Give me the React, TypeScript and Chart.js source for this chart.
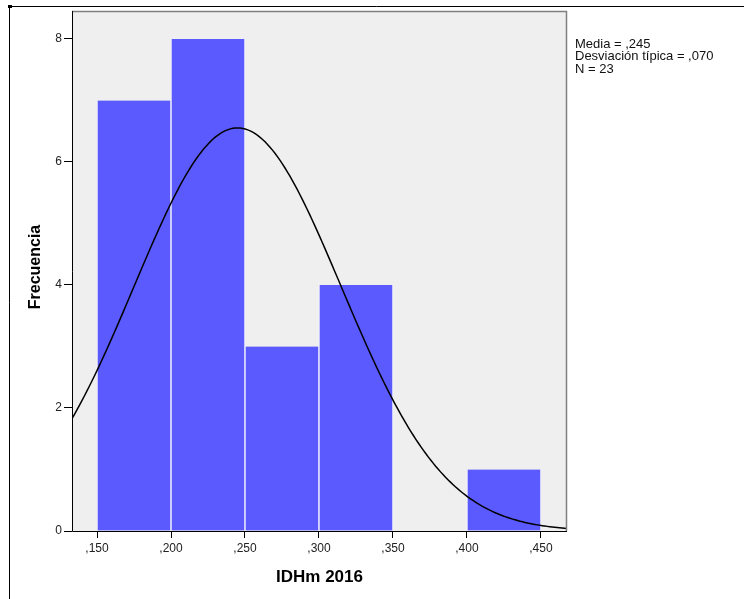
import React, { useEffect, useRef } from "react";
import { Chart, registerables } from "chart.js";

Chart.register(...registerables);

const binCenters = [0.175, 0.225, 0.275, 0.325, 0.425];
const frequencies = [7, 8, 3, 4, 1];
const xTicks = [0.15, 0.2, 0.25, 0.3, 0.35, 0.4, 0.45];
const yTicks = [0, 2, 4, 6, 8];
const media = 0.245;
const desviacion = 0.07;
const nTotal = 23;
const binWidth = 0.05;
const statLines = ["Media = ,245", "Desviación típica = ,070", "N = 23"];
const xMin = 0.1331;
const xMax = 0.4676;
const yMax = 8.455;

const FONT = "'Liberation Sans', Arial, sans-serif";

function fmtTick(v: number) {
  return "," + Math.round(v * 1000).toString().padStart(3, "0");
}

export default function App() {
  const ref = useRef<HTMLCanvasElement>(null);
  useEffect(() => {
    document.body.style.margin = "0";
    const curve: { x: number; y: number }[] = [];
    const steps = 200;
    for (let i = 0; i <= steps; i++) {
      const x = xMin + ((xMax - xMin) * i) / steps;
      const z = (x - media) / desviacion;
      const y = (nTotal * binWidth) / (desviacion * Math.sqrt(2 * Math.PI)) * Math.exp(-0.5 * z * z);
      curve.push({ x, y });
    }
    const framePlugin = {
      id: "frame",
      beforeDatasetsDraw(chart: any) {
        const { ctx, chartArea: a } = chart;
        ctx.save();
        ctx.fillStyle = "#efefef";
        ctx.fillRect(a.left, a.top, a.right - a.left, a.bottom - a.top);
        ctx.restore();
      },
      afterDraw(chart: any) {
        const { ctx, chartArea: a } = chart;
        ctx.save();
        ctx.strokeStyle = "#7f7f7f";
        ctx.lineWidth = 1.5;
        ctx.beginPath();
        ctx.moveTo(a.left, a.top + 0.5);
        ctx.lineTo(a.right - 0.5, a.top + 0.5);
        ctx.lineTo(a.right - 0.5, a.bottom);
        ctx.stroke();
        ctx.strokeStyle = "#000";
        ctx.lineWidth = 1;
        ctx.beginPath();
        ctx.moveTo(a.left + 0.5, a.top);
        ctx.lineTo(a.left + 0.5, a.bottom + 0.5);
        ctx.lineTo(a.right, a.bottom + 0.5);
        ctx.stroke();
        ctx.beginPath();
        ctx.moveTo(9.5, 599);
        ctx.lineTo(9.5, 6.5);
        ctx.lineTo(744, 6.5);
        ctx.stroke();
        ctx.fillStyle = "#000";
        ctx.fillRect(8, 5, 4, 3);
        ctx.fillStyle = "#000";
        ctx.font = `bold 17px ${FONT}`;
        ctx.textAlign = "center";
        ctx.textBaseline = "middle";
        ctx.fillText("IDHm 2016", (a.left + a.right) / 2, 577);
        ctx.save();
        ctx.translate(36, 267);
        ctx.rotate(-Math.PI / 2);
        ctx.font = `bold 16px ${FONT}`;
        ctx.fillText("Frecuencia", 0, 0);
        ctx.restore();
        ctx.font = `13px ${FONT}`;
        ctx.fillStyle = "#111";
        ctx.textAlign = "left";
        ctx.textBaseline = "middle";
        statLines.forEach((s, i) => ctx.fillText(s, 575, 44 + i * 12.5));
        ctx.restore();
      },
    };
    const chart = new Chart(ref.current!, {
      type: "bar",
      data: {
        datasets: [
          {
            type: "line",
            data: curve,
            borderColor: "#000",
            borderWidth: 1.5,
            pointRadius: 0,
            tension: 0,
            order: 0,
          } as any,
          {
            type: "bar",
            data: binCenters.map((x, i) => ({ x, y: frequencies[i] })),
            backgroundColor: "#5a5aff",
            borderColor: "#ffffff",
            borderWidth: { left: 1, right: 1, top: 0, bottom: 0 },
            borderSkipped: false,
            barPercentage: 1,
            categoryPercentage: 1,
            order: 1,
          } as any,
        ],
      },
      options: {
        animation: false,
        responsive: false,
        maintainAspectRatio: false,
        layout: { padding: { top: 11, right: 177, left: 0, bottom: 0 } },
        plugins: { legend: { display: false }, tooltip: { enabled: false } },
        scales: {
          x: {
            type: "linear",
            min: xMin,
            max: xMax,
            offset: false,
            afterBuildTicks: (s: any) => {
              s.ticks = xTicks.map((v) => ({ value: v }));
            },
            afterFit: (s: any) => {
              s.height = 68;
            },
            grid: { offset: false, drawOnChartArea: false, drawTicks: true, tickLength: 7, color: "#000", tickColor: "#000" },
            border: { display: false },
            ticks: {
              callback: (v: any) => fmtTick(Number(v)),
              font: { family: FONT, size: 12 },
              color: "#222",
              padding: 3,
              maxRotation: 0,
              autoSkip: false,
            },
          },
          y: {
            type: "linear",
            min: 0,
            max: yMax,
            afterBuildTicks: (s: any) => {
              s.ticks = yTicks.map((v) => ({ value: v }));
            },
            afterFit: (s: any) => {
              s.width = 72;
            },
            grid: { drawOnChartArea: false, drawTicks: true, tickLength: 8, color: "#000", tickColor: "#000" },
            border: { display: false },
            ticks: {
              font: { family: FONT, size: 12 },
              color: "#222",
              padding: 2,
            },
          },
        },
      },
      plugins: [framePlugin],
    });
    return () => chart.destroy();
  }, []);
  return <canvas ref={ref} width={744} height={599} style={{ display: "block" }} />;
}
